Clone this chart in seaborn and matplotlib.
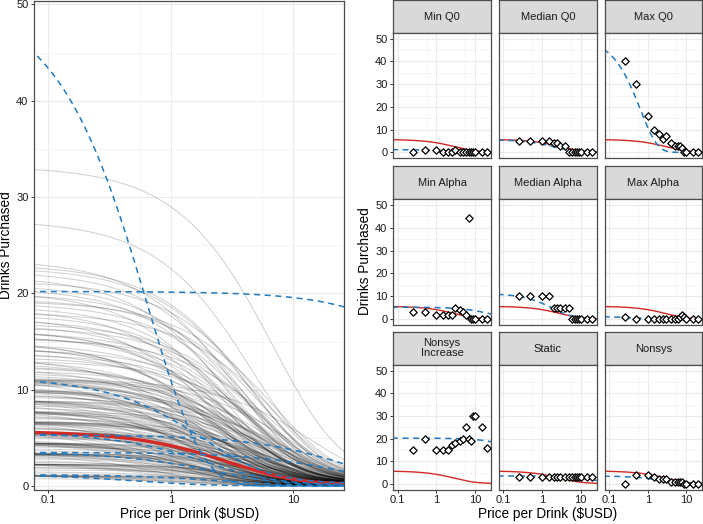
"""Demand curves: every participant's fitted curve (left) and nine example participants (right)."""
import numpy as np
import pandas as pd
import matplotlib
matplotlib.use("Agg")
import matplotlib.pyplot as plt
from matplotlib.ticker import FixedLocator, NullFormatter
import seaborn as sns


# ── data ─────────────────────────────────────────────────────────────────────

prices = [0.25, 0.5, 1, 1.5, 2, 2.5, 3, 4, 5, 6, 7, 8, 9, 10, 15, 20]

panel_names = ["Min Q0", "Median Q0", "Max Q0",
               "Min Alpha", "Median Alpha", "Max Alpha",
               "Nonsys\nIncrease", "Static", "Nonsys"]

# observed purchases of the nine example participants
obs_min_q0 = [0, 1, 1, 0, 0, 0, 1, 0, 0, 0, 0, 0, 0, 0, 0, 0]
obs_median_q0 = [5, 5, 5, 5, 4, 4, 3, 3, 0, 0, 0, 0, 0, 0, 0, 0]
obs_max_q0 = [40, 30, 16, 10, 8, 6, 7, 4, 3, 3, 3, 2, 0, 0, 0, 0]
obs_min_alpha = [3, 3, 2, 2, 2, 2, 5, 4, 3, 2, 44, 0, 0, 0, 0, 0]
obs_median_alpha = [10, 10, 10, 10, 5, 5, 5, 5, 5, 0, 0, 0, 0, 0, 0, 0]
obs_max_alpha = [1, 0, 0, 0, 0, 0, 0, 0, 0, 0, 1, 2, 1, 0, 0, 0]
obs_nonsys_inc = [15, 20, 15, 15, 15, 17, 18, 19, 20, 25, 20, 19, 30, 30, 25, 16]
obs_static = [3, 3, 3, 3, 3, 3, 3, 3, 3, 3, 3, 3, 3, 3, 3, 3]
obs_nonsys = [0, 4, 4, 3, 2, 2, 2, 1, 1, 1, 1, 1, 0, 0, 0, 0]

# individual fits of the nine examples (exponentiated demand: Q0, rate = alpha*Q0, k)
fit_q0 = [1.2, 5.6, 50.6, 5.3, 11.3, 1.2, 20.2, 3.5, 3.5]
fit_rate = [0.1, 0.137, 0.0224, 0.0106, 0.15, 0.5, 0.00093, 0.0106, 0.12]
fit_k = [1.5, 1.5, 30, 1.5, 1.5, 1.5, 1.5, 1.5, 1.5]

# group-level fit
group_q0 = 5.7
group_rate = 0.0925
group_k = 1.5

# fitted curves of all participants (Q0 and rate)
gray_q0 = [
    1.1, 1.1, 1.1, 1.1, 1.1, 1.1, 1.1, 1.1,
    2.3, 2.3, 2.3, 2.3, 2.3, 2.3, 2.3, 2.3, 2.3,
    3.4, 3.4, 3.4, 3.4, 3.4, 3.4, 3.4, 3.4, 3.4, 3.4, 3.4,
    4.5, 4.5, 4.5, 4.5, 4.5, 4.5, 4.5, 4.5, 4.5, 4.5, 4.5,
    5.6, 5.6, 5.6, 5.6, 5.6, 5.6, 5.6, 5.6, 5.6, 5.6, 5.6, 5.6,
    6.7, 6.7, 6.7, 6.7, 6.7, 6.7, 6.7, 6.7, 6.7, 6.7, 6.7,
    7.8, 7.8, 7.8, 7.8, 7.8, 7.8, 7.8, 7.8,
    8.9, 8.9, 8.9, 8.9, 8.9, 8.9, 8.9, 8.9,
    10.0, 10.0, 10.0, 10.0, 10.0, 10.0,
    11.1, 11.1, 11.1, 11.1, 11.1, 11.1, 11.1, 11.1, 11.1, 11.1,
    1.5, 1.9, 2.7, 3.0, 3.8, 4.1, 4.9, 5.2, 6.0, 6.3, 7.1, 7.4, 8.2, 8.5, 9.3, 9.6, 10.4, 10.7,
    0.8, 1.3, 1.7, 2.0, 2.5, 2.9, 3.2, 3.6, 3.9, 4.3, 4.7, 5.0, 5.4, 5.8, 6.2,
    6.5, 6.9, 7.3, 7.6, 8.0, 8.4, 8.7, 9.1, 9.5, 9.8, 10.2, 10.6, 10.9, 11.3, 11.8,
    11.6, 12.0, 12.2, 12.5, 12.8, 13.0, 13.3, 13.4, 13.9, 14.2, 14.5, 14.8, 15.0, 15.3, 15.6,
    16.0, 16.2, 16.5, 16.8, 17.3, 17.6, 18.0, 18.7, 19.0, 19.4, 20.2, 20.9, 21.8, 22.7, 23.5,
    12.4, 13.1, 13.7, 14.3, 14.9, 15.5, 16.1, 16.9, 17.8, 18.4, 19.2, 20.0, 20.6, 21.3, 22.3, 23.0,
    27.6, 33.2,
]
gray_rate = [
    0.06, 0.12, 0.2, 0.35, 0.09, 0.04, 0.15, 0.25,
    0.04, 0.08, 0.12, 0.18, 0.28, 0.06, 0.05, 0.1, 0.22,
    0.03, 0.05, 0.08, 0.11, 0.15, 0.22, 0.35, 0.04, 0.07, 0.1, 0.18,
    0.03, 0.06, 0.09, 0.12, 0.16, 0.24, 0.05, 0.04, 0.08, 0.11, 0.2,
    0.03, 0.05, 0.07, 0.09, 0.12, 0.16, 0.22, 0.3, 0.04, 0.06, 0.1, 0.14,
    0.03, 0.05, 0.07, 0.1, 0.13, 0.18, 0.25, 0.04, 0.06, 0.09, 0.15,
    0.03, 0.06, 0.09, 0.13, 0.2, 0.05, 0.08, 0.11,
    0.03, 0.05, 0.08, 0.12, 0.18, 0.04, 0.07, 0.1,
    0.04, 0.07, 0.1, 0.15, 0.05, 0.09,
    0.02, 0.04, 0.06, 0.09, 0.13, 0.2, 0.03, 0.05, 0.08, 0.11,
    0.1, 0.05, 0.15, 0.07, 0.12, 0.04, 0.2, 0.08, 0.06, 0.14, 0.05, 0.1, 0.07, 0.16, 0.05, 0.09, 0.12, 0.06,
    0.15, 0.08, 0.05, 0.12, 0.07, 0.1, 0.04, 0.14, 0.06, 0.09, 0.18, 0.05, 0.11, 0.07, 0.13,
    0.04, 0.08, 0.1, 0.06, 0.15, 0.05, 0.09, 0.12, 0.07, 0.04, 0.1, 0.06, 0.08, 0.05, 0.07,
    0.08, 0.05, 0.12, 0.07, 0.1, 0.04, 0.15, 0.06, 0.09, 0.05, 0.11, 0.07, 0.13, 0.04, 0.08,
    0.06, 0.1, 0.05, 0.09, 0.07, 0.12, 0.04, 0.08, 0.06, 0.05, 0.1, 0.07, 0.09, 0.06, 0.08,
    0.07, 0.1, 0.05, 0.08, 0.12, 0.06, 0.09, 0.05, 0.07, 0.1, 0.04, 0.06, 0.08, 0.05, 0.07, 0.06,
    0.06, 0.04,
]

# ── plotting ─────────────────────────────────────────────────────────────────

W, H = 703, 524
XLIM = (10 ** -1.115, 10 ** 1.416)
RED = "#D42A26"
BLUE = "#1F7AC2"
DASH = (0, (4, 3))
grid = np.geomspace(0.07, 28, 300)


def demand(q0, rate, k, c):
    return q0 * 10 ** (k * (np.exp(-rate * c) - 1))


def curves_frame(q0s, rates, ks):
    parts = []
    for i, (q0, r, k) in enumerate(zip(q0s, rates, ks)):
        parts.append(pd.DataFrame({"id": i, "price": grid, "drinks": demand(q0, r, k, grid)}))
    return pd.concat(parts, ignore_index=True)


def box(left, top, right, bottom):
    return [left / W, 1 - bottom / H, (right - left) / W, (bottom - top) / H]


def style_panel(ax, ylim, show_x=True, show_y=True):
    ax.set_xlim(XLIM)
    ax.set_ylim(ylim)
    ax.set_xticks([0.1, 1, 10])
    ax.set_xticklabels(["0.1", "1", "10"])
    ax.xaxis.set_minor_locator(FixedLocator([10 ** -0.253, 10 ** 0.747]))
    ax.xaxis.set_minor_formatter(NullFormatter())
    ax.set_yticks(range(0, 51, 10))
    ax.yaxis.set_minor_locator(FixedLocator(range(5, 50, 10)))
    ax.grid(which="major", color="#EBEBEB", lw=0.8)
    ax.grid(which="minor", color="#F2F2F2", lw=0.5)
    ax.set_axisbelow(True)
    ax.tick_params(which="minor", length=0)
    ax.tick_params(which="major", length=2.4, width=0.7, color="#333333",
                   labelsize=8, labelcolor="#1A1A1A", pad=1.8)
    ax.tick_params(axis="x", bottom=show_x, labelbottom=show_x)
    ax.tick_params(axis="y", left=show_y, labelleft=show_y)
    for s in ax.spines.values():
        s.set_color("#4D4D4D")
        s.set_linewidth(0.9)
    ax.set_xlabel("")
    ax.set_ylabel("")


sns.set_theme(style="white")
plt.rcParams["font.family"] = ["Liberation Sans", "DejaVu Sans"]

fig = plt.figure(figsize=(W / 100, H / 100), dpi=100)

gray_df = curves_frame(gray_q0, gray_rate, [group_k] * len(gray_q0))
fit_df = curves_frame(fit_q0, fit_rate, fit_k)
group_df = curves_frame([group_q0], [group_rate], [group_k])

# left: all curves
ax = fig.add_axes(box(34.3, 0.5, 344.3, 489.5))
ax.set_xscale("log")
sns.lineplot(data=gray_df, x="price", y="drinks", units="id", estimator=None,
             color="black", alpha=0.18, lw=0.75, ax=ax, legend=False)
sns.lineplot(data=group_df, x="price", y="drinks", color=RED, lw=2.4, ax=ax, legend=False)
sns.lineplot(data=fit_df, x="price", y="drinks", units="id", estimator=None,
             color=BLUE, lw=1.1, linestyle=DASH, ax=ax, legend=False)
style_panel(ax, (-0.35, 50.4))
fig.text(189.3 / W, 1 - 518 / H, "Price per Drink ($USD)", ha="center", va="baseline",
         fontsize=9.8, color="black")
fig.text(6 / W, 1 - 245 / H, "Drinks Purchased", ha="center", va="center",
         rotation=90, fontsize=9.8, color="black")

# right: nine example participants
observed = [obs_min_q0, obs_median_q0, obs_max_q0,
            obs_min_alpha, obs_median_alpha, obs_max_alpha,
            obs_nonsys_inc, obs_static, obs_nonsys]
cols = [(393.3, 491), (499, 596.7), (605, 702)]
rows = [(0, 33, 158), (166, 199, 325), (332, 365, 489.5)]

for i, name in enumerate(panel_names):
    r, c = divmod(i, 3)
    left, right = cols[c]
    strip_top, top, bottom = rows[r]

    st = fig.add_axes(box(left, strip_top, right, top))
    st.set_facecolor("#D9D9D9")
    st.set_xticks([])
    st.set_yticks([])
    for s in st.spines.values():
        s.set_color("#4D4D4D")
        s.set_linewidth(0.9)
    st.text(0.5, 0.5, name, ha="center", va="center", fontsize=8,
            color="#1A1A1A", transform=st.transAxes, linespacing=1.0)

    pa = fig.add_axes(box(left, top, right, bottom))
    pa.set_xscale("log")
    sns.lineplot(data=group_df, x="price", y="drinks", color=RED, lw=1.0, ax=pa, legend=False)
    sns.lineplot(data=fit_df[fit_df["id"] == i], x="price", y="drinks", color=BLUE,
                 lw=1.1, linestyle=DASH, ax=pa, legend=False)
    pts = pd.DataFrame({"price": prices, "drinks": observed[i]})
    sns.scatterplot(data=pts, x="price", y="drinks", marker="D", s=14,
                    facecolor="white", edgecolor="black", linewidth=0.9,
                    ax=pa, legend=False, zorder=5)
    style_panel(pa, (-2.5, 52.5), show_x=(r == 2), show_y=(c == 0))

fig.text(547.7 / W, 1 - 518 / H, "Price per Drink ($USD)", ha="center", va="baseline",
         fontsize=9.8, color="black")
fig.text(365 / W, 1 - 261.5 / H, "Drinks Purchased", ha="center", va="center",
         rotation=90, fontsize=9.8, color="black")

fig.savefig("out.png", dpi=100)
